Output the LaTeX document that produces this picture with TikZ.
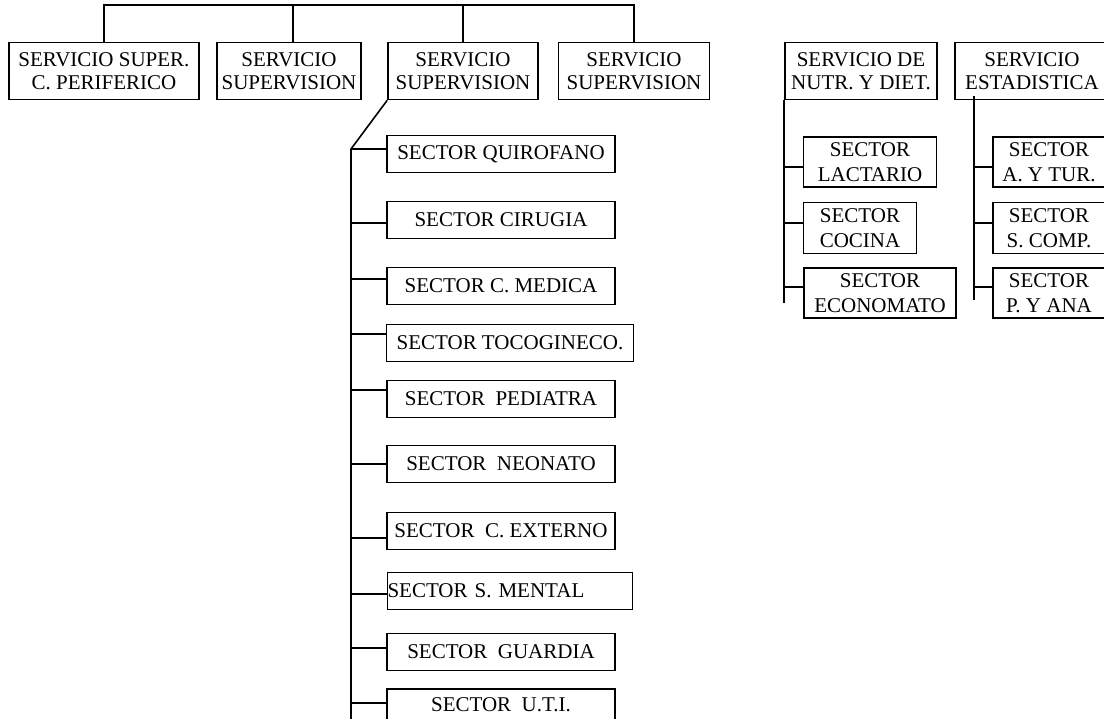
\documentclass[tikz,border=0pt]{standalone}
\usepackage{fontspec}
\setmainfont{Liberation Serif}

\tikzset{
  unit/.style={draw, line width=1.6pt, align=center, inner sep=0pt,
    font=\fontsize{21}{23}\selectfont},
  servicio/.style={unit, minimum height=57pt},
  sector/.style={unit, minimum width=228pt, minimum height=37pt},
  subsector/.style={unit, minimum height=50pt, font=\fontsize{21}{25}\selectfont},
  link/.style={line width=1.6pt},
}

\begin{document}
\begin{tikzpicture}[x=1pt,y=-1pt]
\useasboundingbox (0,0) rectangle (1104,726);
\clip (0,0) rectangle (1104,718);

% Servicios
\node[servicio, minimum width=190pt] (perif) at (104,71) {SERVICIO SUPER.\\C. PERIFERICO};
\node[servicio, minimum width=144pt] (sup2) at (289,71) {SERVICIO\\SUPERVISION};
\node[servicio, minimum width=150pt] (sup3) at (463,71) {SERVICIO\\SUPERVISION};
\node[servicio, minimum width=151pt] (sup4) at (634,71) {SERVICIO\\SUPERVISION};
\node[servicio, minimum width=152pt] (nutr) at (861,71) {SERVICIO DE\\NUTR. Y DIET.};
\node[servicio, minimum width=154pt] (est) at (1032,71) {SERVICIO\\ESTADISTICA};

% Top bus
\coordinate (top) at (0,5);
\draw[link] (perif.north) -- (perif.north |- top) -- (sup4.north |- top) -- (sup4.north);
\draw[link] ([xshift=4pt]sup2.north) -- ([xshift=4pt]sup2.north |- top);
\draw[link] (sup3.north) -- (sup3.north |- top);

% Sectores de supervision
\node[sector] (quiro) at (501,154) {SECTOR QUIROFANO};
\node[sector] (cirugia) at (501,220) {SECTOR CIRUGIA};
\node[sector] (medica) at (501,286) {SECTOR C. MEDICA};
\node[sector, minimum width=247pt] (toco) at (510,343) {SECTOR TOCOGINECO.};
\node[sector] (pediatra) at (501,399) {SECTOR\ \ PEDIATRA};
\node[sector] (neonato) at (501,464) {SECTOR\ \ NEONATO};
\node[sector] (externo) at (501,531) {SECTOR\ \ C. EXTERNO};
\node[sector, line width=0.8pt, text width=245pt, align=left] (mental) at (510,591) {SECTOR S. MENTAL};
\node[sector] (guardia) at (501,652) {SECTOR\ \ GUARDIA};
\node[sector, minimum height=32pt] (uti) at (501,705) {SECTOR\ \ U.T.I.};

\coordinate (spine) at (351,149);
\draw[link] (sup3.south west) -- (spine) -- (spine |- 0,720);
\draw[link] (spine) -- (spine -| quiro.west);
\foreach \s/\dy in {cirugia/-3,medica/7,toco/9,pediatra/9,neonato/0,externo/-7,mental/-3,guardia/4,uti/2}
  \draw[link] ([yshift=\dy pt]\s.west) -- ([yshift=\dy pt]\s.west -| spine);

% Sectores de nutricion
\node[subsector, minimum width=133pt] (lactario) at (870,162) {SECTOR\\LACTARIO};
\node[subsector, minimum width=113pt, minimum height=51pt] (cocina) at (860,228) {SECTOR\\COCINA};
\node[subsector, minimum width=152pt] (economato) at (880,293) {SECTOR\\ECONOMATO};

\draw[link] (nutr.south west) -- (nutr.south west |- 0,303);
\foreach \s/\dy in {lactario/-5,cocina/5,economato/6}
  \draw[link] ([yshift=\dy pt]\s.west) -- ([yshift=\dy pt]\s.west -| nutr.south west);

% Sectores de estadistica
\node[subsector, minimum width=112pt] (turnos) at (1049,162) {SECTOR\\A. Y TUR.};
\node[subsector, minimum width=112pt, minimum height=51pt] (comp) at (1049,228) {SECTOR\\S. COMP.};
\node[subsector, minimum width=112pt] (ana) at (1049,293) {SECTOR\\P. Y ANA};

\coordinate (estbus) at ([xshift=20pt, yshift=4pt]est.south west);
\draw[link] (estbus) -- (estbus |- 0,300);
\foreach \s/\dy in {turnos/-5,comp/5,ana/6}
  \draw[link] ([yshift=\dy pt]\s.west) -- ([yshift=\dy pt]\s.west -| estbus);

\end{tikzpicture}
\end{document}
